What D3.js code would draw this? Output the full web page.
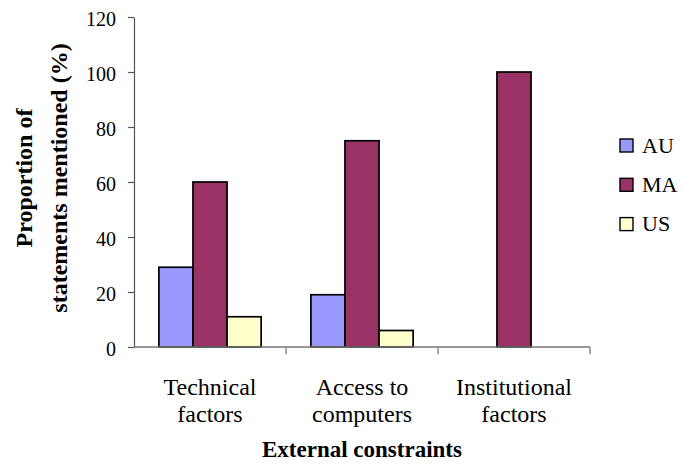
<!DOCTYPE html>
<html>
<head>
<meta charset="utf-8">
<script src="https://cdn.jsdelivr.net/npm/d3@7"></script>
</head>
<body style="margin:0;background:#fff">
<svg id="chart" width="682" height="469" style="display:block" font-family="Liberation Serif"></svg>
<script>
// Categories of external constraints, split over two label lines
const categories = ["Technical factors", "Access to computers", "Institutional factors"];
const categoryLines = [["Technical", "factors"], ["Access to", "computers"], ["Institutional", "factors"]];
const seriesNames = ["AU", "MA", "US"];
const seriesColors = ["#9999FF", "#993366", "#FFFFCC"];
// Percentage of statements per series, in category order
const valuesAU = [29, 19, 0];
const valuesMA = [60, 75, 100];
const valuesUS = [11, 6, 0];
const yTicks = [0, 20, 40, 60, 80, 100, 120];

const seriesValues = [valuesAU, valuesMA, valuesUS];
const serifFont = "Liberation Serif";
const svg = d3.select("#chart");

const plotLeft = 134, plotRight = 590, plotTop = 17, plotBottom = 347;

const x = d3.scaleBand().domain(categories).range([plotLeft, plotRight]).paddingInner(0).paddingOuter(0);
const x1 = d3.scaleBand().domain(seriesNames).range([0, x.bandwidth()]).paddingInner(0).paddingOuter(0.73);
const y = d3.scaleLinear().domain([0, 120]).range([plotBottom, plotTop]);

// Bars
const groups = svg.append("g").selectAll("g")
  .data(categories)
  .join("g")
  .attr("transform", d => `translate(${x(d)},0)`);

groups.selectAll("rect")
  .data((c, i) => seriesNames.map((s, j) => ({ s, j, v: seriesValues[j][i] })).filter(d => d.v > 0))
  .join("rect")
  .attr("x", d => x1(d.s))
  .attr("width", x1.bandwidth())
  .attr("y", d => y(d.v))
  .attr("height", d => y(0) - y(d.v))
  .attr("fill", d => seriesColors[d.j])
  .attr("stroke", "#000")
  .attr("stroke-width", 1.7);

// Y axis
const yAxis = svg.append("g")
  .attr("transform", `translate(${plotLeft},0)`)
  .call(d3.axisLeft(y).tickValues(yTicks).tickSize(6).tickPadding(12).tickSizeOuter(0));
yAxis.attr("font-family", serifFont).attr("font-size", 20);
yAxis.select(".domain").attr("stroke", "#555").attr("stroke-width", 1.2);
yAxis.selectAll(".tick line").attr("stroke", "#555").attr("stroke-width", 1.2);
yAxis.selectAll(".tick text").attr("fill", "#000").attr("dy", "0.4em").attr("font-size", 20);

// X axis: ticks at category boundaries
const xAxis = svg.append("g").attr("transform", `translate(0,${plotBottom})`);
xAxis.append("line").attr("x1", plotLeft).attr("x2", plotRight).attr("stroke", "#777").attr("stroke-width", 1.3);
const boundaries = categories.map(c => x(c)).concat([plotRight]);
xAxis.selectAll("line.tk").data(boundaries.slice(1)).join("line")
  .attr("class", "tk")
  .attr("x1", d => d).attr("x2", d => d).attr("y1", 0).attr("y2", 7)
  .attr("stroke", "#777").attr("stroke-width", 1.3);

// Category labels
const catLabels = svg.selectAll("text.cat")
  .data(categories)
  .join("text")
  .attr("class", "cat")
  .attr("x", d => x(d) + x.bandwidth() / 2)
  .attr("y", 395)
  .attr("text-anchor", "middle")
  .attr("font-size", 24)
  .attr("fill", "#000");
catLabels.each(function (d, i) {
  const t = d3.select(this);
  categoryLines[i].forEach((line, k) => {
    t.append("tspan").attr("x", x(d) + x.bandwidth() / 2).attr("dy", k === 0 ? 0 : 27).text(line);
  });
});

// X axis title
svg.append("text")
  .attr("x", 362).attr("y", 457)
  .attr("text-anchor", "middle")
  .attr("font-size", 23).attr("font-weight", "bold")
  .text("External constraints");

// Y axis title (two lines)
const yTitle = svg.append("text")
  .attr("transform", "translate(32,178) rotate(-90)")
  .attr("text-anchor", "middle")
  .attr("font-size", 24).attr("font-weight", "bold");
yTitle.append("tspan").attr("x", 0).attr("dy", 0).text("Proportion of");
yTitle.append("tspan").attr("x", 0).attr("dy", 35).text("statements mentioned (%)");

// Legend
const legendItems = seriesNames.map((name, i) => ({ name, color: seriesColors[i], i }));
svg.selectAll("rect.key")
  .data(legendItems)
  .join("rect")
  .attr("class", "key")
  .attr("x", 620).attr("y", d => 139 + d.i * 39.3)
  .attr("width", 13).attr("height", 13)
  .attr("fill", d => d.color)
  .attr("stroke", "#000").attr("stroke-width", 1.4);
svg.selectAll("text.key")
  .data(legendItems)
  .join("text")
  .attr("class", "key")
  .attr("x", 642).attr("y", d => 152.5 + d.i * 39.3)
  .attr("font-size", 22)
  .text(d => d.name);

// Serif type throughout
svg.selectAll("g").attr("font-family", serifFont);
svg.selectAll("text, tspan").attr("font-family", serifFont).style("font-family", `"${serifFont}"`);
</script>
</body>
</html>
